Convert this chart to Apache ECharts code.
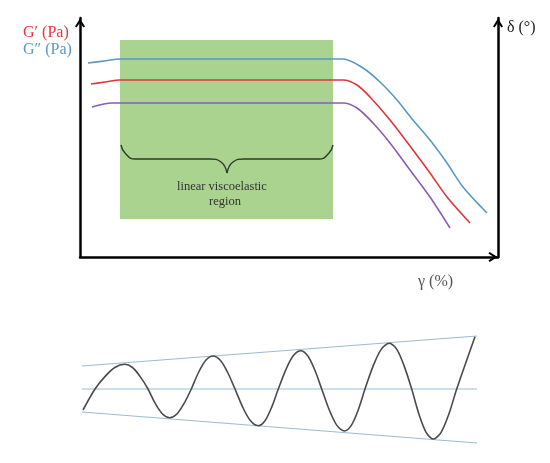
<!DOCTYPE html>
<html>
<head>
<meta charset="utf-8">
<script src="https://cdn.jsdelivr.net/npm/echarts@6/dist/echarts.min.js"></script>
<style>html,body{margin:0;padding:0;background:#fff}#c{width:550px;height:463px}</style>
</head>
<body>
<div id="c"></div>
<script>
// ---- top chart (strain sweep), arbitrary units ----
var gPrime2 = [[8,194],[24,196],[40,198],[263,198],[283,189],[300,175],[317,157],[333,137],[350,117],[367,94],[383,70],[407,44]]; // G'' (blue)
var gPrime  = [[11,173],[25,175],[40,177],[263,177],[277,172],[290,160],[310,137],[333,107],[350,84],[367,60],[390,34]]; // G' (red)
var delta   = [[12,150],[32,154],[263,154],[277,149],[293,134],[310,114],[330,87],[350,60],[370,29]]; // purple
var lveRegion = [[40,217],[253,38]];
var braceLeft  = [[41,112],[45,104],[55,98],[130,98],[141,95],[147,84]];
var braceRight = [[253,112],[249,104],[239,98],[164,98],[153,95],[147,84]];
// ---- bottom chart (oscillation) ----
var wave = [[1,-21],[13,0],[22.9,12.4],[32.8,21.5],[42.7,24.7],[50.5,21.5],[58.2,12.4],[66,0],
  [73.2,-14.4],[80.5,-25],[87.7,-28.7],[94.9,-25],[102.1,-14.4],[109.3,0],
  [116.5,16.5],[123.8,28.7],[131,33],[138.3,28.7],[145.7,16.5],[153,0],
  [160.8,-18.4],[168.5,-31.8],[176.3,-36.7],[183,-31.8],[189.6,-18.4],[196.3,0],
  [203.8,19.2],[211.2,33.2],[218.7,38.3],[225.7,33.2],[232.7,19.2],[239.7,0],
  [247.3,-21],[254.9,-36.4],[262.5,-42],[269.3,-36.4],[276.2,-21],[283,0],
  [291.1,22.9],[299.2,39.6],[307.3,45.7],[314.8,39.6],[322.2,22.9],[329.7,0],
  [336.9,-25],[344.1,-43.3],[351.3,-50],[359.1,-43.3],[366.9,-25],[374.7,0],
  [393,52.3]];
var upperEnv = [[0,23],[395,53]];
var midLine  = [[0,0],[395,0]];
var lowerEnv = [[0,-23],[395,-54]];

var SERIF = "'Liberation Serif','DejaVu Serif',serif";
var chart = echarts.init(document.getElementById('c'));
var axisLineStyle = {color:'#000', width:2.5};
var chevron = 'path://M5,0 L10,8 L8.4,9.2 L5,4 L1.6,9.2 L0,8 Z';
var arrow = ['none', chevron];
var arrowAxisLine = {show:true, onZero:false, lineStyle:axisLineStyle, symbol:arrow, symbolSize:[10,10], symbolOffset:[0,-5]};
function lineS(data, color, width, xi, yi, smooth){
  return {type:'line', data:data, xAxisIndex:xi, yAxisIndex:yi, showSymbol:false, symbol:'none',
    smooth:smooth, lineStyle:{color:color, width:width}, silent:true, animation:false, z:3};
}
chart.setOption({
  animation:false,
  grid:[
    {left:80, top:18, width:418, height:239},
    {left:82, top:330, width:395, height:115}
  ],
  xAxis:[
    {gridIndex:0, type:'value', min:0, max:418, axisLine:arrowAxisLine,
      axisTick:{show:false}, axisLabel:{show:false}, splitLine:{show:false}},
    {gridIndex:1, type:'value', min:0, max:395, show:false}
  ],
  yAxis:[
    {gridIndex:0, type:'value', min:0, max:239, axisLine:arrowAxisLine,
      axisTick:{show:false}, axisLabel:{show:false}, splitLine:{show:false}},
    {gridIndex:0, type:'value', position:'right', min:0, max:239, axisLine:arrowAxisLine,
      axisTick:{show:false}, axisLabel:{show:false}, splitLine:{show:false}},
    {gridIndex:1, type:'value', min:-56, max:59, show:false}
  ],
  series:[
    {type:'line', data:[], xAxisIndex:0, yAxisIndex:0, silent:true,
      markArea:{silent:true, itemStyle:{color:'#a9d38f'}, data:[[{coord:lveRegion[0]},{coord:lveRegion[1]}]]}},
    lineS(braceLeft, '#2f3a2b', 1.4, 0, 0, 0.5),
    lineS(braceRight, '#2f3a2b', 1.4, 0, 0, 0.5),
    lineS(gPrime2, '#5b97c5', 1.6, 0, 0, 0.3),
    lineS(gPrime, '#e0363b', 1.6, 0, 0, 0.3),
    lineS(delta, '#8b5db3', 1.6, 0, 0, 0.3),
    lineS(upperEnv, '#9dbbd1', 1.2, 1, 2, false),
    lineS(midLine, '#9dbbd1', 1.2, 1, 2, false),
    lineS(lowerEnv, '#9dbbd1', 1.2, 1, 2, false),
    lineS(wave, '#4a4a4a', 1.6, 1, 2, 0.3)
  ],
  graphic:[
    {type:'text', z:100, left:23, top:25, style:{text:'G\u2032 (Pa)', font:'16px '+SERIF, fill:'#e0363b'}},
    {type:'text', z:100, left:23, top:42, style:{text:'G\u2033 (Pa)', font:'16px '+SERIF, fill:'#5b97c5'}},
    {type:'text', z:100, left:507, top:20, style:{text:'\u03b4 (\u00b0)', font:'16px '+SERIF, fill:'#222'}},
    {type:'text', z:100, left:418, top:274, style:{text:'\u03b3 (%)', font:'16px '+SERIF, fill:'#555'}},
    {type:'text', z:100, left:177, top:180, style:{text:'linear viscoelastic', font:'12.5px '+SERIF, fill:'#333'}},
    {type:'text', z:100, left:209, top:195, style:{text:'region', font:'12.5px '+SERIF, fill:'#333'}}
  ]
});
</script>
</body>
</html>
